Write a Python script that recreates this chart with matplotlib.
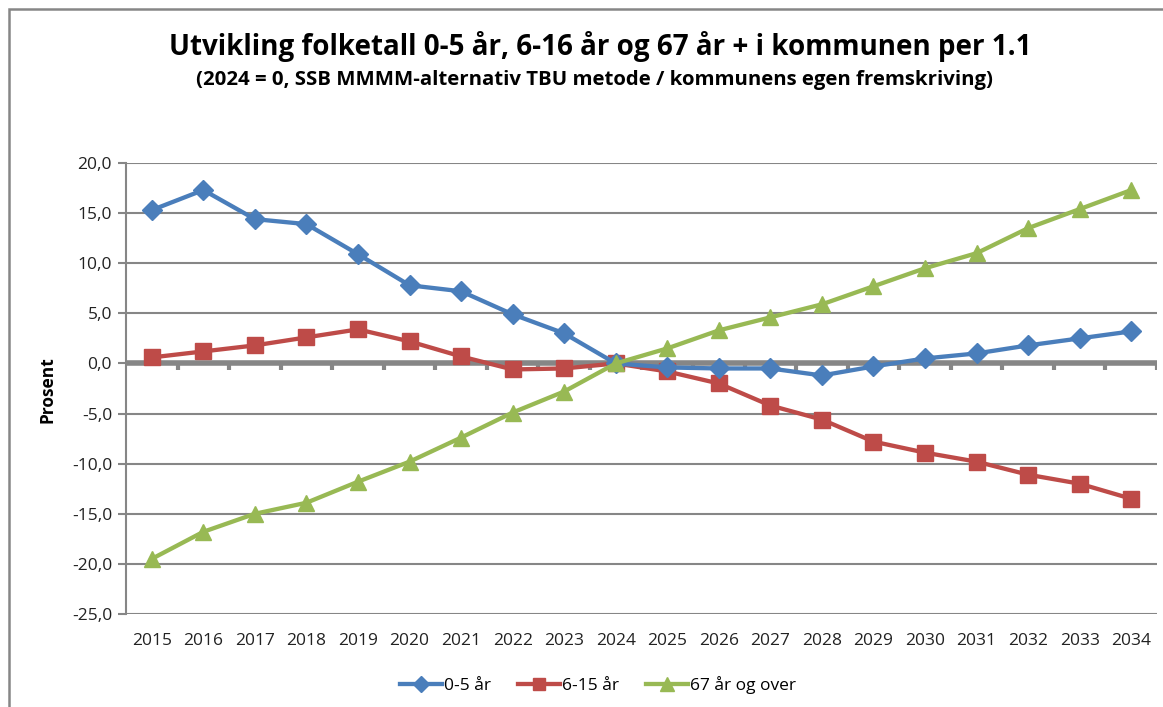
import matplotlib.pyplot as plt
from matplotlib.patches import Rectangle
from matplotlib.ticker import FuncFormatter, MultipleLocator

plt.rcParams['font.family'] = ['Open Sans', 'DejaVu Sans']

years = list(range(2015, 2035))
age_0_5 = [15.3, 17.3, 14.4, 13.9, 10.9, 7.8, 7.2, 4.9, 3.0, 0.0,
           -0.4, -0.5, -0.5, -1.2, -0.3, 0.5, 1.0, 1.8, 2.5, 3.2]
age_6_15 = [0.6, 1.2, 1.8, 2.6, 3.4, 2.2, 0.7, -0.6, -0.5, 0.0,
            -0.8, -2.0, -4.2, -5.6, -7.8, -8.9, -9.8, -11.1, -12.0, -13.5]
age_67 = [-19.5, -16.8, -15.0, -13.9, -11.8, -9.8, -7.4, -4.9, -2.8, 0.0,
          1.5, 3.3, 4.6, 5.9, 7.7, 9.5, 11.0, 13.5, 15.4, 17.3]
labels = ['0-5 år', '6-15 år', '67 år og over']

W, H = 1163, 707
fig = plt.figure(figsize=(W / 100, H / 100), dpi=100)
ax = fig.add_axes([126 / W, 1 - 614 / H, (1157 - 126) / W, (614 - 163) / H])

# outer chart frame
fig.patches.append(Rectangle((9 / W, -0.05), 1.2, 1 - 8.5 / H + 0.05, transform=fig.transFigure,
                             fill=False, edgecolor='#868686', linewidth=1.8))

grid_c = '#868686'
ax.plot(years, age_0_5, color='#4A7EBB', lw=3.1, marker='D', ms=10, label=labels[0], zorder=4)
ax.plot(years, age_6_15, color='#BE4B48', lw=3.1, marker='s', ms=11.5, label=labels[1], zorder=3)
ax.plot(years, age_67, color='#98B954', lw=3.1, marker='^', ms=12, label=labels[2], zorder=5)

ax.set_xlim(2014.5, 2034.5)
ax.set_ylim(-25, 20)
ax.yaxis.set_major_locator(MultipleLocator(5))
ax.yaxis.set_major_formatter(FuncFormatter(lambda v, p: f'{v:.1f}'.replace('.', ',')))
ax.set_xticks(years)
ax.set_xticklabels([str(y) for y in years])
ax.tick_params(axis='x', which='major', length=0, pad=14, labelsize=12.5, colors='#222222')
ax.tick_params(axis='y', length=6, color=grid_c, width=1.5, labelsize=12.5, labelcolor='#222222', pad=4)
ax.grid(axis='y', color=grid_c, lw=1.5, zorder=0)
ax.axhline(0, color=grid_c, lw=4, zorder=1)
# small category tick marks on the zero line
for x in [y + 0.5 for y in years]:
    ax.plot([x, x], [0, -0.7], color=grid_c, lw=3, zorder=1, solid_capstyle='butt')

for s in ['top', 'right', 'bottom']:
    ax.spines[s].set_visible(False)
ax.spines['left'].set_color(grid_c)
ax.spines['left'].set_linewidth(1.5)

fig.text(48 / W, 1 - 390 / H, 'Prosent', rotation=90, ha='center', va='center',
         fontsize=12.5, fontweight='bold')

fig.text(600 / W, 1 - 47 / H, 'Utvikling folketall 0-5 år, 6-16 år og 67 år + i kommunen per 1.1',
         ha='center', va='center', fontsize=20, fontweight='bold')
fig.text(594 / W, 1 - 80 / H, '(2024 = 0, SSB MMMM-alternativ TBU metode / kommunens egen fremskriving)',
         ha='center', va='center', fontsize=14.7, fontweight='bold')

fig.legend(loc='center', bbox_to_anchor=(598 / W, 1 - 685 / H), ncol=3, frameon=False,
           fontsize=12.5, handlelength=2.4, handletextpad=0.1, columnspacing=1.6, markerscale=0.8)

fig.savefig('out.png', dpi=100)
